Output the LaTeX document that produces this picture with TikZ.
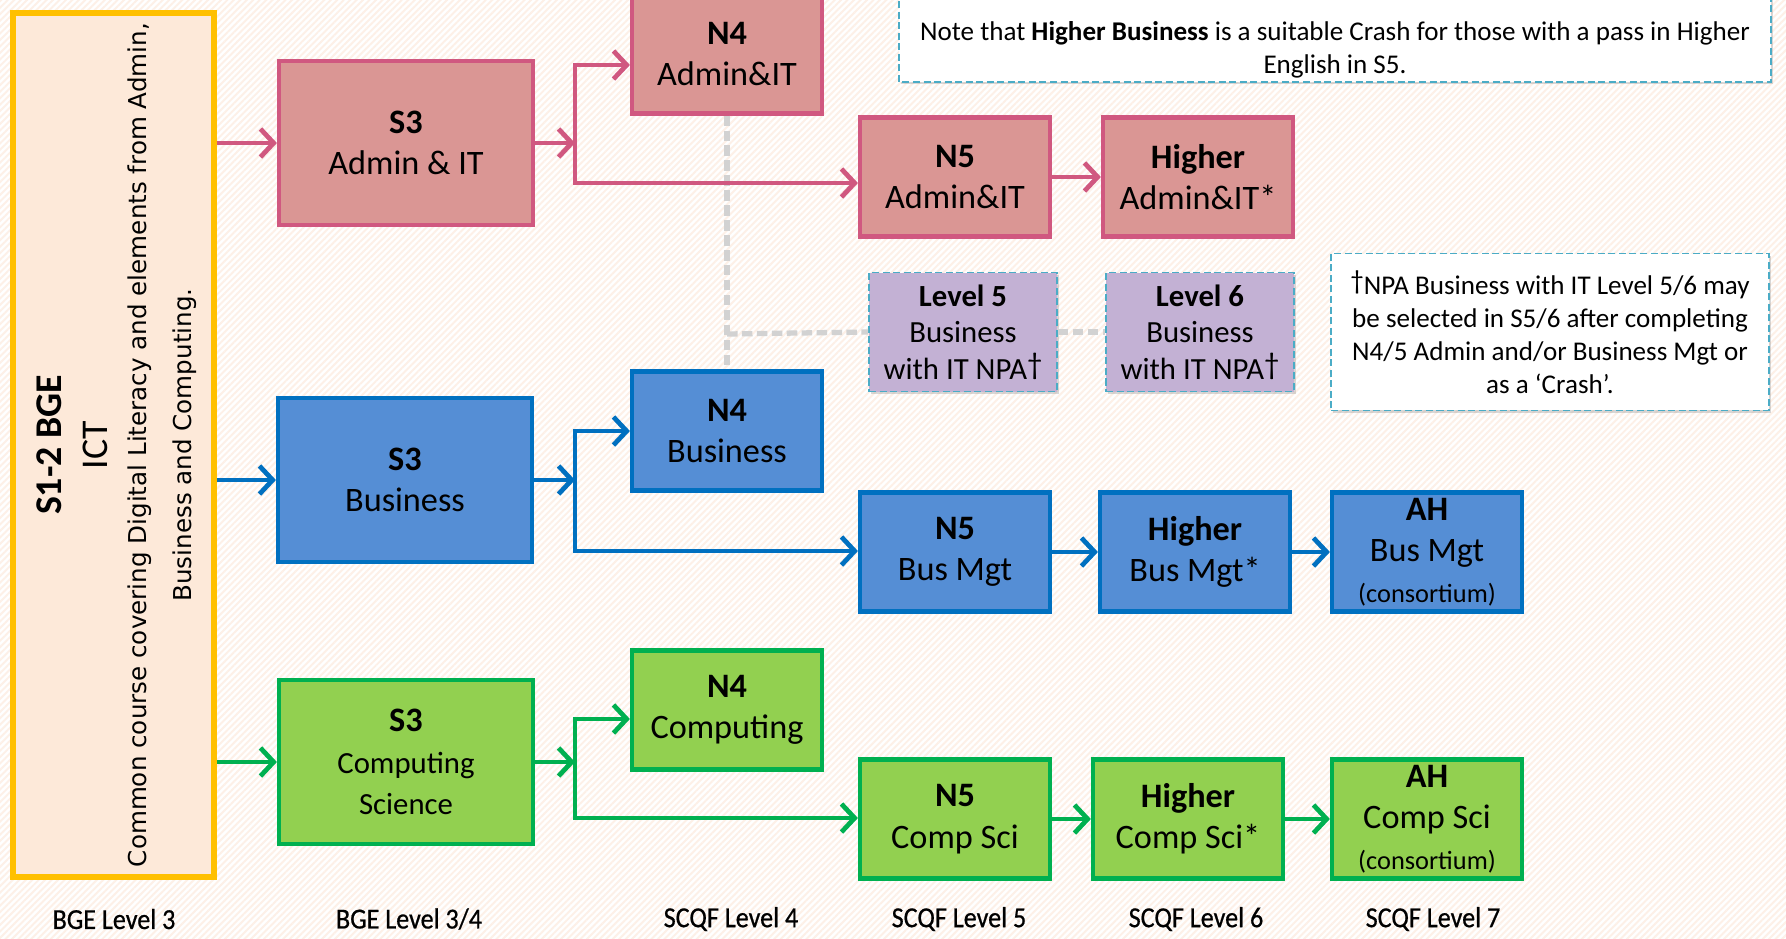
\documentclass[tikz,border=0pt]{standalone}
\usepackage{fontspec}
\setmainfont{Carlito}
\newfontfamily\wideface{DejaVu Sans}
\newfontfamily\levelface[FakeStretch=0.9,FakeBold=0.6]{Carlito}
\usetikzlibrary{positioning,calc,arrows.meta,shadows,patterns.meta}

\definecolor{adminfill}{RGB}{218,150,148}
\definecolor{adminline}{RGB}{208,88,128}
\definecolor{busfill}{RGB}{85,142,213}
\definecolor{busline}{RGB}{0,112,192}
\definecolor{compfill}{RGB}{146,208,80}
\definecolor{compline}{RGB}{0,176,80}
\definecolor{npafill}{RGB}{195,177,212}
\definecolor{noteline}{RGB}{75,172,198}
\definecolor{bgefill}{RGB}{253,233,217}
\definecolor{bgeline}{RGB}{255,192,0}
\definecolor{stripe}{RGB}{253,240,231}
\definecolor{linkgray}{RGB}{210,210,210}

\newcommand\dagmark{\raisebox{.35ex}{†}}

\tikzset{
  shade box/.style={drop shadow={shadow xshift=1.3pt,shadow yshift=-1.3pt,opacity=.3}},
  course/.style={draw,line width=2.4pt,align=center,inner sep=0pt,shade box,
    font=\fontsize{19.5}{23.5}\selectfont},
  admin/.style={course,draw=adminline,fill=adminfill},
  bus/.style={course,draw=busline,fill=busfill},
  comp/.style={course,draw=compline,fill=compfill},
  s3box/.style={minimum width=5.08cm,minimum height=3.28cm},
  nbox/.style={minimum width=3.8cm,minimum height=2.38cm},
  npa/.style={draw=noteline,fill=npafill,line width=1.1pt,dash pattern=on 4pt off 2pt,
    shade box,minimum width=3.76cm,minimum height=2.38cm,align=center,inner sep=0pt,
    font=\fontsize{17.5}{20.8}\selectfont},
  notebox/.style={draw=noteline,fill=white,line width=1.1pt,dash pattern=on 4pt off 2pt,shade box},
  notetext/.style={align=center,font=\fontsize{15.4}{18.8}\selectfont},
  arr/.style={line width=2.7pt,-{Straight Barb[length=7.5pt,width=16pt]}},
  link/.style={draw=linkgray,line width=3pt,dash pattern=on 6pt off 2.5pt},
  level/.style={font=\levelface\fontsize{16.5}{19}\selectfont},
}

\begin{document}
\begin{tikzpicture}[x=0.02cm,y=-0.02cm]
  \useasboundingbox (0,0) rectangle (1786,938);
  \fill[white] (0,0) rectangle (1786,938);
  \fill[pattern={Lines[angle=45,distance=2.6pt,line width=1.1pt]},pattern color=stripe] (0,0) rectangle (1786,938);

  % S1-2 column
  \node[draw=bgeline,fill=bgefill,line width=3pt,minimum width=4.02cm,minimum height=17.28cm] (bge) at (113.5,445) {};
  \node[rotate=90,align=center,font=\fontsize{21.5}{26}\selectfont] (bgetext) at (117,445)
    {\textbf{S1-2 BGE}\\ICT\\[-4pt]{\wideface\fontsize{14}{21}\selectfont Common course covering Digital Literacy and elements from Admin,}\\{\wideface\fontsize{14}{21}\selectfont Business and Computing.}};

  % admin row
  \node[admin,s3box] (s3a) at (406,143) {\textbf{S3}\\Admin \& IT};
  \node[admin,nbox] (n4a) at (727,54) {\textbf{N4}\\Admin\&IT};
  \node[admin,nbox] (n5a) at (955,177) {\textbf{N5}\\Admin\&IT};
  \node[admin,nbox] (ha) at (1198,177) {\textbf{Higher}\\Admin\&IT*};

  % business row
  \node[bus,s3box] (s3b) at (405,480) {\textbf{S3}\\Business};
  \node[bus,nbox] (n4b) at (727,431) {\textbf{N4}\\Business};
  \node[bus,nbox] (n5b) at (955,552) {\textbf{N5}\\Bus Mgt};
  \node[bus,nbox] (hb) at (1195,552) {\textbf{Higher}\\Bus Mgt*};
  \node[bus,nbox] (ahb) at (1427,552) {\textbf{AH}\\Bus Mgt\\{\fontsize{15}{17}\selectfont (consortium)}};

  % computing row
  \node[comp,s3box] (s3c) at (406,762) {\textbf{S3}\\{\fontsize{17.5}{20.5}\selectfont Computing}\\{\fontsize{17.5}{20.5}\selectfont Science}};
  \node[comp,nbox] (n4c) at (727,710) {\textbf{N4}\\Computing};
  \node[comp,nbox] (n5c) at (955,819) {\textbf{N5}\\Comp Sci};
  \node[comp,nbox] (hc) at (1188,819) {\textbf{Higher}\\Comp Sci*};
  \node[comp,nbox] (ahc) at (1427,819) {\textbf{AH}\\Comp Sci\\{\fontsize{15}{17}\selectfont (consortium)}};

  % NPA boxes
  \node[npa] (l5) at (963,332) {\textbf{Level 5}\\Business\\with IT NPA\dagmark};
  \node[npa] (l6) at (1200,332) {\textbf{Level 6}\\Business\\with IT NPA\dagmark};

  % notes
  \draw[notebox] (899,-20) rectangle (1771,82);
  \node[notetext] (crash) at (1335,50) {Note that \textbf{Higher Business} is a suitable Crash for those with a pass in Higher\\English in S5.};
  \node[notebox,notetext,minimum width=8.76cm,minimum height=3.14cm] (npanote) at (1550,332)
    {\dagmark NPA Business with IT Level 5/6 may\\be selected in S5/6 after completing\\N4/5 Admin and/or Business Mgt or\\as a ‘Crash’.};

  % grey links
  \coordinate (lk) at (727,334);
  \draw[link] (n4a.south) -- (n4b.north);
  \draw[link] (lk) -- (l5.west);
  \draw[link] (l5.east) -- (l6.west);

  % junctions
  \coordinate (jaT) at (575,65);
  \coordinate (jaB) at (575,183);
  \coordinate (jbT) at (575,431);
  \coordinate (jbB) at (575,551);
  \coordinate (jcT) at (575,719);
  \coordinate (jcB) at (575,818);

  \draw[arr,adminline] (bge.east |- s3a) -- (s3a.west);
  \draw[arr,adminline] (s3a.east) -- (s3a.east -| jaT);
  \draw[arr,adminline] (jaB) -- (jaT) -- (jaT -| n4a.west);
  \draw[arr,adminline] (jaT) -- (jaB) -- (jaB -| n5a.west);
  \draw[arr,adminline] (n5a.east) -- (ha.west);

  \draw[arr,busline] (bge.east |- s3b) -- (s3b.west);
  \draw[arr,busline] (s3b.east) -- (s3b.east -| jbT);
  \draw[arr,busline] (jbB) -- (jbT) -- (jbT -| n4b.west);
  \draw[arr,busline] (jbT) -- (jbB) -- (jbB -| n5b.west);
  \draw[arr,busline] (n5b.east) -- (hb.west);
  \draw[arr,busline] (hb.east) -- (ahb.west);

  \draw[arr,compline] (bge.east |- s3c) -- (s3c.west);
  \draw[arr,compline] (s3c.east) -- (s3c.east -| jcT);
  \draw[arr,compline] (jcB) -- (jcT) -- (jcT -| n4c.west);
  \draw[arr,compline] (jcT) -- (jcB) -- (jcB -| n5c.west);
  \draw[arr,compline] (n5c.east) -- (hc.west);
  \draw[arr,compline] (hc.east) -- (ahc.west);

  % levels
  \node[level] (lv1) at (114,919) {BGE Level 3};
  \node[level] (lv2) at (409,919) {BGE Level 3/4};
  \node[level] (lv3) at (731,919) {SCQF Level 4};
  \node[level] (lv4) at (959,919) {SCQF Level 5};
  \node[level] (lv5) at (1196,919) {SCQF Level 6};
  \node[level] (lv6) at (1433,919) {SCQF Level 7};
\end{tikzpicture}
\end{document}
